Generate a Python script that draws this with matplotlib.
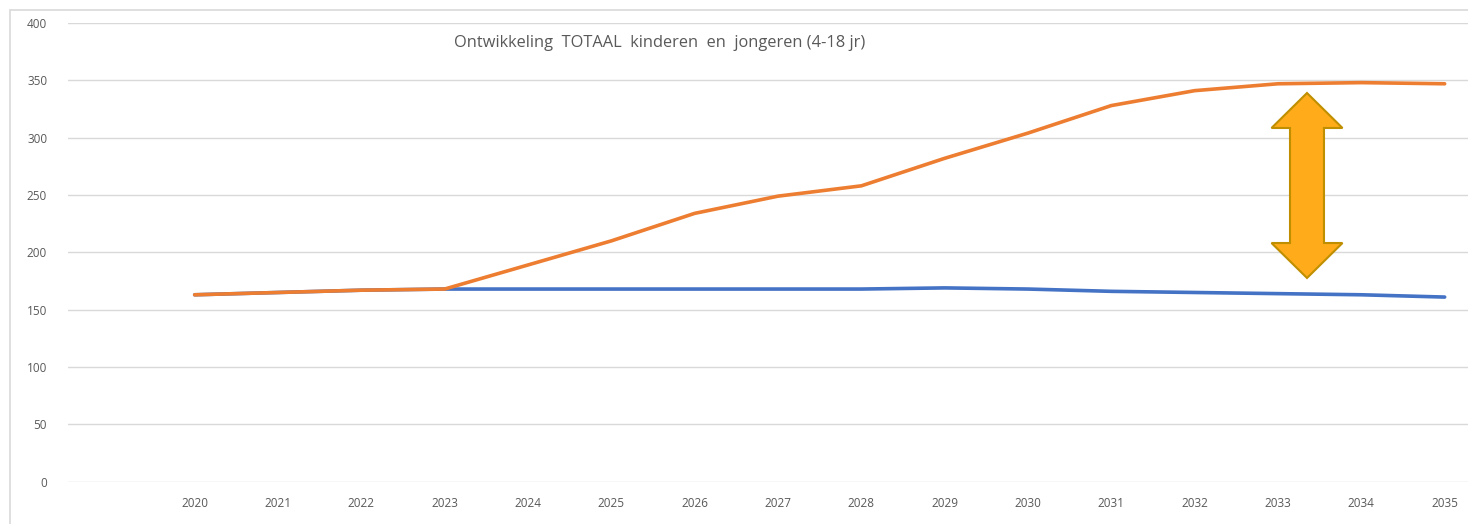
import matplotlib
matplotlib.use("Agg")
import matplotlib.pyplot as plt
from matplotlib.patches import Rectangle, Polygon

# data
years = list(range(2020, 2036))
totaal_hoog = [163, 165, 167, 168, 189, 210, 234, 249, 258, 282, 304, 328, 341, 347, 348, 347]
totaal_basis = [163, 165, 167, 168, 168, 168, 168, 168, 168, 169, 168, 166, 165, 164, 163, 161]
y_ticks = [0, 50, 100, 150, 200, 250, 300, 350, 400]
title = "Ontwikkeling  TOTAAL  kinderen  en  jongeren (4-18 jr)"

W, H = 1468, 524
fig = plt.figure(figsize=(W / 100, H / 100), dpi=100)
plt.rcParams['font.family'] = ['Open Sans', 'DejaVu Sans']

# light chart frame like the excel chart area
fig.patches.append(Rectangle((10 / W, -0.1), 1.2, 1 - 10 / H + 0.1, transform=fig.transFigure,
                             fill=False, edgecolor='#d9d9d9', linewidth=1.2))

ax = fig.add_axes([68 / W, 1 - 481.7 / H, 1 - 68 / W, (481.7 - 23) / H])
ax.plot(years, totaal_basis, color='#4472c4', linewidth=2.6, solid_capstyle='round', zorder=3)
ax.plot(years, totaal_hoog, color='#ed7d31', linewidth=2.6, solid_capstyle='round', zorder=4)

ax.set_xlim(2018.48, 2035.28)
ax.set_ylim(0, 400)
ax.set_xticks(years)
ax.set_yticks(y_ticks)
ax.grid(axis='y', color='#d9d9d9', linewidth=1)
ax.set_axisbelow(True)
for s in ax.spines.values():
    s.set_visible(False)
ax.tick_params(length=0, colors='#595959', labelsize=8.5)
ax.tick_params(axis='y', pad=15)
ax.tick_params(axis='x', pad=11)

fig.text(660 / W, 1 - 43 / H, title, ha='center', va='center', fontsize=11.8, color='#595959')

# block double arrow between the two scenarios (pixel shape)
cx, top, bot = 1307, 93, 278
hw, sw, hh = 35.5, 17, 35
pts = [(cx, top), (cx + hw, top + hh), (cx + sw, top + hh), (cx + sw, bot - hh), (cx + hw, bot - hh),
       (cx, bot), (cx - hw, bot - hh), (cx - sw, bot - hh), (cx - sw, top + hh), (cx - hw, top + hh)]
pts = [(x / W, 1 - y / H) for x, y in pts]
fig.patches.append(Polygon(pts, closed=True, transform=fig.transFigure, facecolor='#ffab1a',
                           edgecolor='#bf8f00', linewidth=1.5, zorder=5))

fig.savefig('out.png', dpi=100)
